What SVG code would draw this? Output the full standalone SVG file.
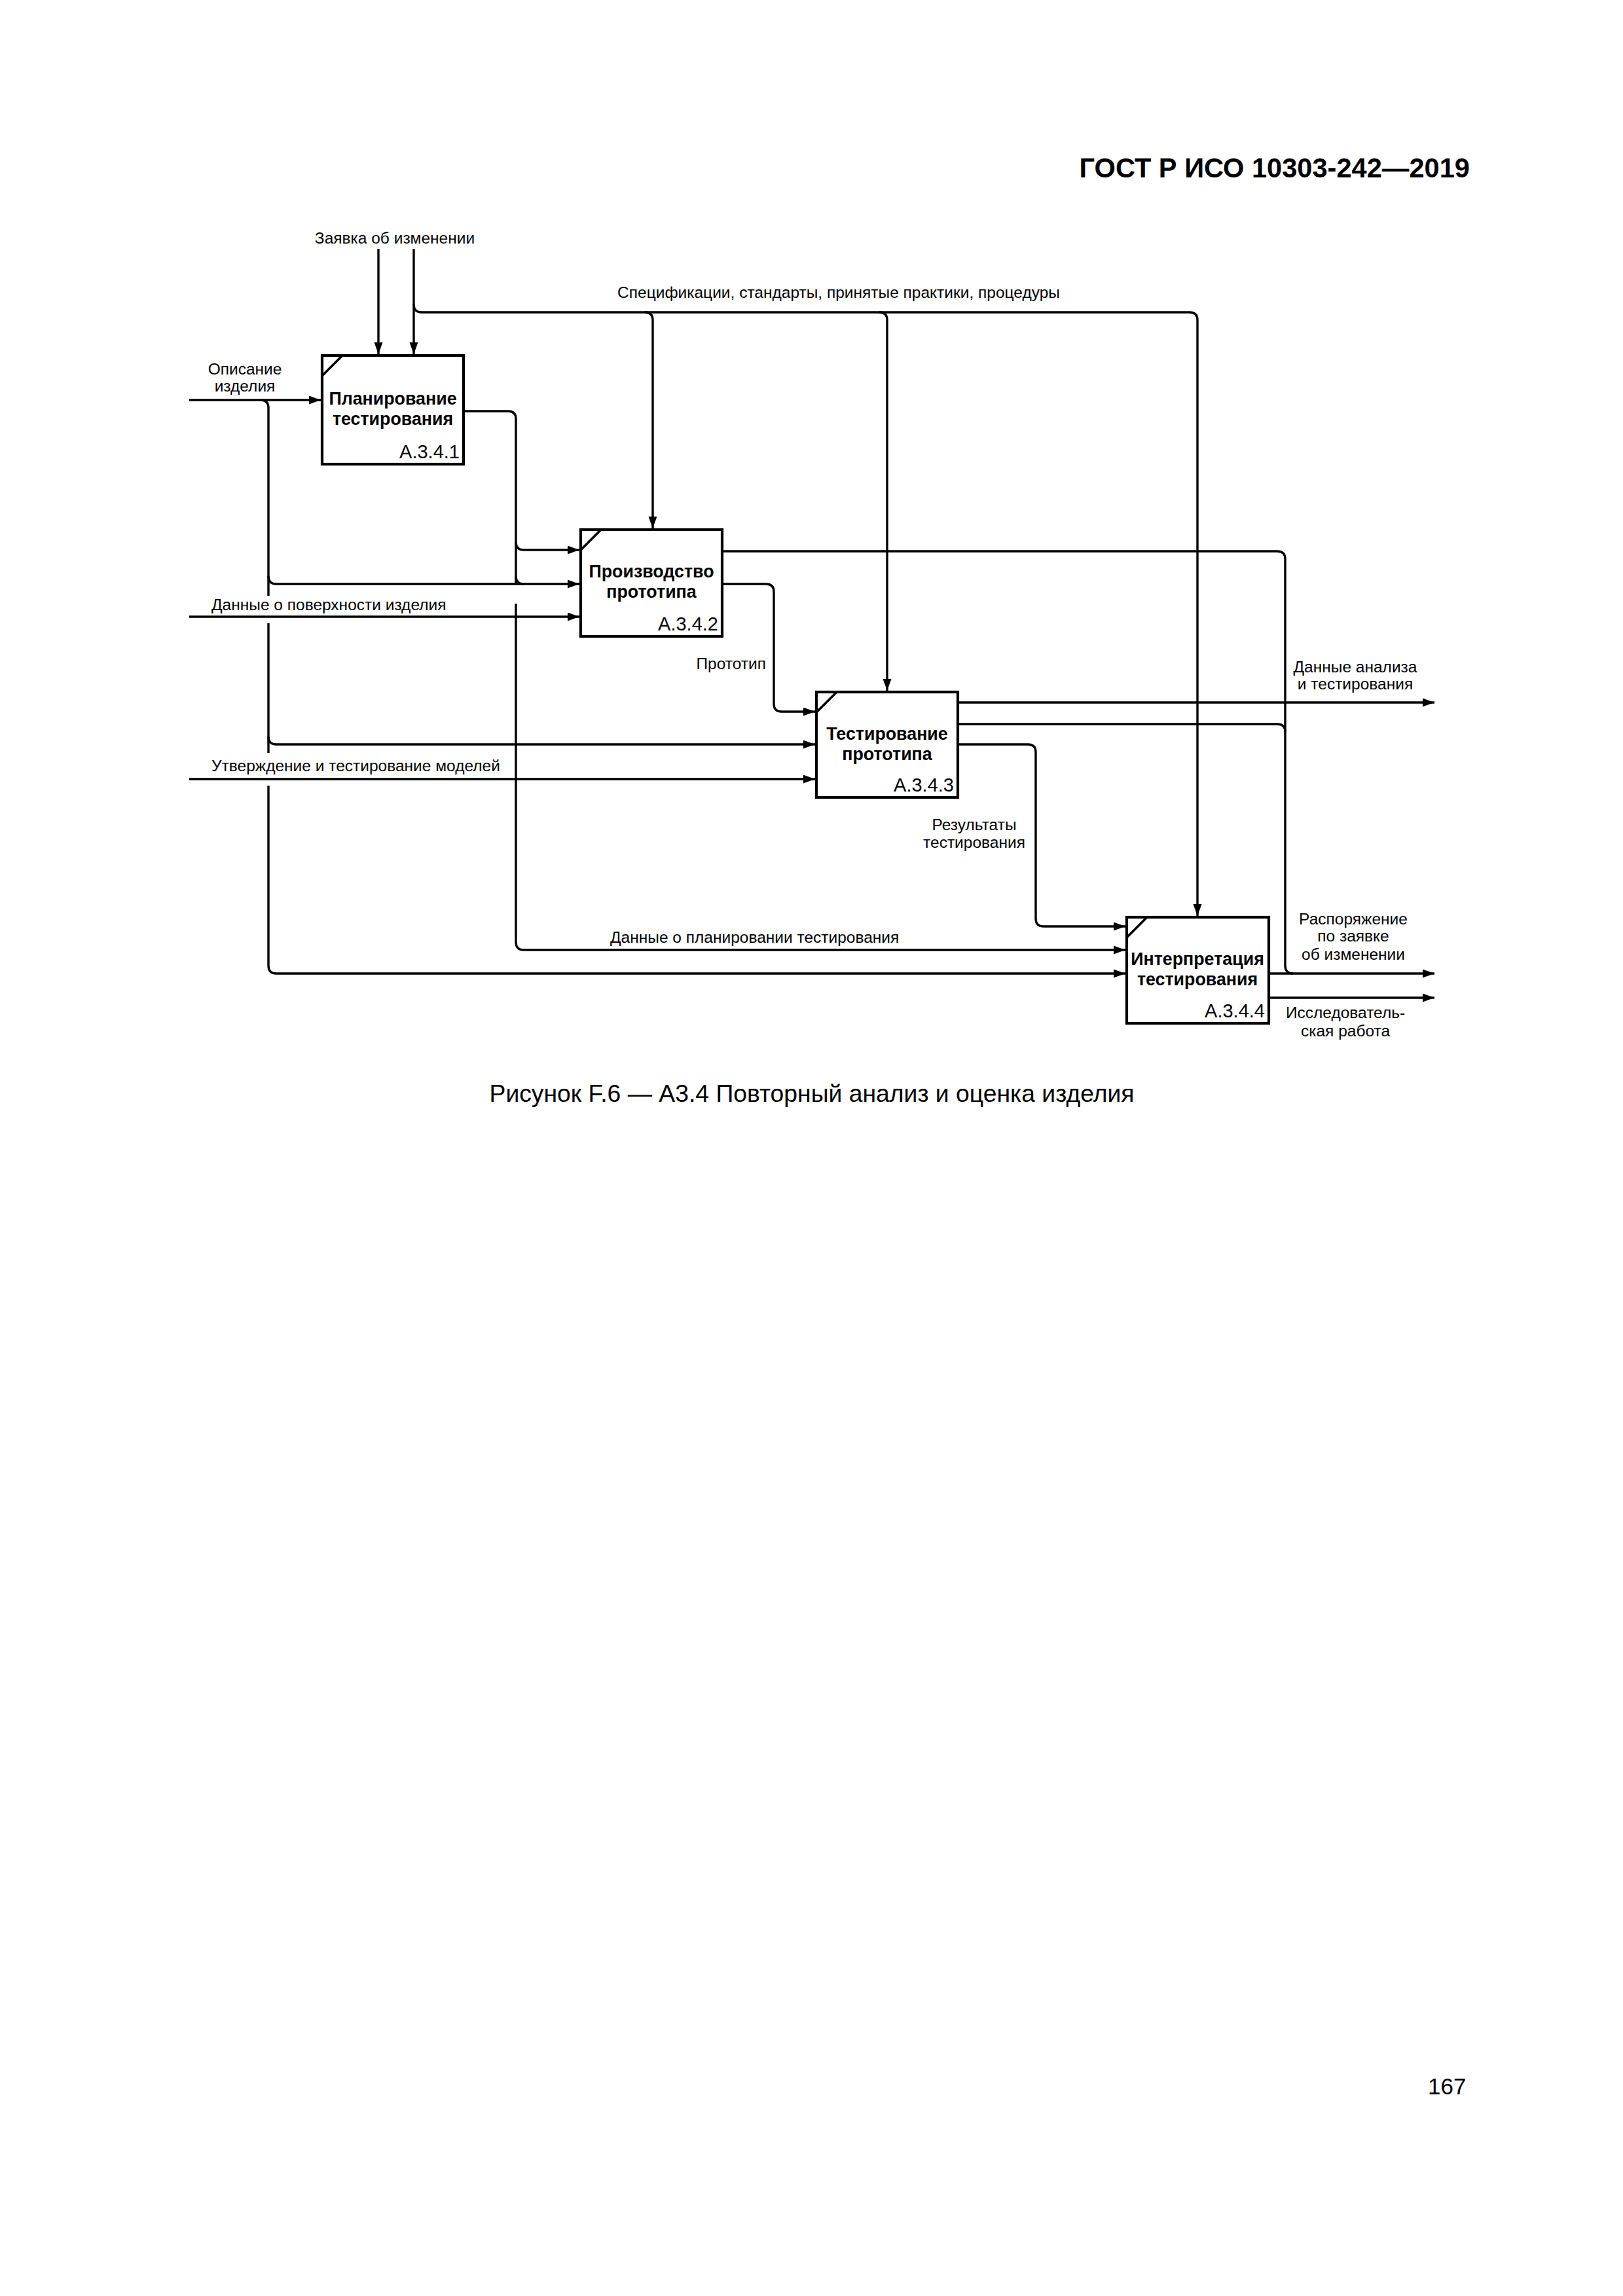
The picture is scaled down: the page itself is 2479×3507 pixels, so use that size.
<svg xmlns="http://www.w3.org/2000/svg" width="2479" height="3507" viewBox="0 0 2479 3507">
<style>
.bg{fill:#fff}
.box{fill:#fff;stroke:#000;stroke-width:4.2}
.diag{stroke:#000;stroke-width:3.6;fill:none}
.ln{fill:none;stroke:#000;stroke-width:3.4;stroke-linecap:butt}
.arr{fill:none;stroke:#000;stroke-width:3.4;marker-end:url(#ah)}
.ttl{font-family:"Liberation Sans",Arial,sans-serif;font-weight:bold;font-size:26.8px;text-anchor:middle;fill:#000}
.num{font-family:"Liberation Sans",Arial,sans-serif;font-size:29px;text-anchor:end;fill:#000}
.lb{font-family:"Liberation Sans",Arial,sans-serif;font-size:24.5px;fill:#000}
.c{text-anchor:middle}
.e{text-anchor:end}
.hdr{font-family:"Liberation Sans",Arial,sans-serif;font-weight:bold;font-size:41.6px;text-anchor:end;fill:#000}
.cap{font-family:"Liberation Sans",Arial,sans-serif;font-size:37.3px;text-anchor:middle;fill:#000}
.pg{font-family:"Liberation Sans",Arial,sans-serif;font-size:35px;fill:#000}
</style>
<defs>
<marker id="ah" markerUnits="userSpaceOnUse" markerWidth="20" markerHeight="14" refX="18" refY="6.5" orient="auto">
<path d="M0,0 L18,6.5 L0,13 z" fill="#000"/>
</marker>
</defs>
<rect class="bg" x="0" y="0" width="2479" height="3507"/>
<text class="hdr" x="2245" y="271">ГОСТ Р ИСО 10303-242—2019</text>

<g id="connectors">
<path class="arr" d="M578,380 V541"/>
<path class="arr" d="M632,380 V541"/>
<path class="arr" d="M632,465 Q632,477 644,477 H1817 Q1829,477 1829,489 V1399"/>
<path class="arr" d="M985,477 Q997,477 997,489 V807"/>
<path class="arr" d="M1343,477 Q1355,477 1355,489 V1055"/>
<path class="arr" d="M289,611 H490"/>
<path class="ln" d="M398,611 Q410,611 410,623 V910"/>
<path class="ln" d="M410,952 V1150"/>
<path class="arr" d="M410,1200 V1475 Q410,1487 422,1487 H1719"/>
<path class="arr" d="M410,880 Q410,892 422,892 H885"/>
<path class="arr" d="M410,1125 Q410,1137 422,1137 H1245"/>
<path class="ln" d="M708,628 H776 Q788,628 788,640 V893"/>
<path class="arr" d="M788,922 V1439 Q788,1451 800,1451 H1719"/>
<path class="arr" d="M788,828 Q788,840 800,840 H885"/>
<path class="ln" d="M788,880 Q788,892 800,892"/>
<path class="arr" d="M289,942 H885"/>
<path class="arr" d="M289,1190 H1245"/>
<path class="ln" d="M1103,842 H1951 Q1963,842 1963,854 V1475 Q1963,1487 1975,1487"/>
<path class="arr" d="M1103,892 H1170 Q1182,892 1182,904 V1075 Q1182,1087 1194,1087 H1245"/>
<path class="arr" d="M1463,1073 H2191"/>
<path class="ln" d="M1463,1106 H1951 Q1963,1106 1963,1118"/>
<path class="arr" d="M1463,1137 H1570 Q1582,1137 1582,1149 V1403 Q1582,1415 1594,1415 H1719"/>
<path class="arr" d="M1938,1487 H2191"/>
<path class="arr" d="M1938,1524 H2191"/>
</g>

<g id="labels">
<text class="lb c" x="603" y="372">Заявка об изменении</text>
<text class="lb c" x="1281" y="455">Спецификации, стандарты, принятые практики, процедуры</text>
<text class="lb c" x="374" y="572">Описание</text>
<text class="lb c" x="374" y="598">изделия</text>
<text class="lb" x="323" y="932">Данные о поверхности изделия</text>
<text class="lb" x="323" y="1178">Утверждение и тестирование моделей</text>
<text class="lb e" x="1170" y="1022">Прототип</text>
<text class="lb c" x="2070" y="1027">Данные анализа</text>
<text class="lb c" x="2070" y="1053">и тестирования</text>
<text class="lb c" x="1488" y="1268">Результаты</text>
<text class="lb c" x="1488" y="1295">тестирования</text>
<text class="lb" x="932" y="1440">Данные о планировании тестирования</text>
<text class="lb c" x="2067" y="1412">Распоряжение</text>
<text class="lb c" x="2067" y="1438">по заявке</text>
<text class="lb c" x="2067" y="1466">об изменении</text>
<text class="lb c" x="2055" y="1555">Исследователь-</text>
<text class="lb c" x="2055" y="1583">ская работа</text>
</g>

<g id="node-A341">
<rect class="box" x="492" y="543" width="216" height="166"/>
<path class="diag" d="M492,574 L523,543"/>
<text class="ttl" x="600" y="618">Планирование</text>
<text class="ttl" x="600" y="649">тестирования</text>
<text class="num" x="702" y="700">A.3.4.1</text>
</g>
<g id="node-A342">
<rect class="box" x="887" y="809" width="216" height="163"/>
<path class="diag" d="M887,840 L918,809"/>
<text class="ttl" x="995" y="882">Производство</text>
<text class="ttl" x="995" y="913">прототипа</text>
<text class="num" x="1097" y="963">A.3.4.2</text>
</g>
<g id="node-A343">
<rect class="box" x="1247" y="1057" width="216" height="161"/>
<path class="diag" d="M1247,1088 L1278,1057"/>
<text class="ttl" x="1355" y="1130">Тестирование</text>
<text class="ttl" x="1355" y="1161">прототипа</text>
<text class="num" x="1457" y="1209">A.3.4.3</text>
</g>
<g id="node-A344">
<rect class="box" x="1721" y="1401" width="217" height="162"/>
<path class="diag" d="M1721,1432 L1752,1401"/>
<text class="ttl" x="1829" y="1474">Интерпретация</text>
<text class="ttl" x="1829" y="1505">тестирования</text>
<text class="num" x="1932" y="1554">A.3.4.4</text>
</g>

<text class="cap" x="1240" y="1683">Рисунок F.6 — А3.4 Повторный анализ и оценка изделия</text>
<text class="pg" x="2181" y="3199">167</text>
</svg>
